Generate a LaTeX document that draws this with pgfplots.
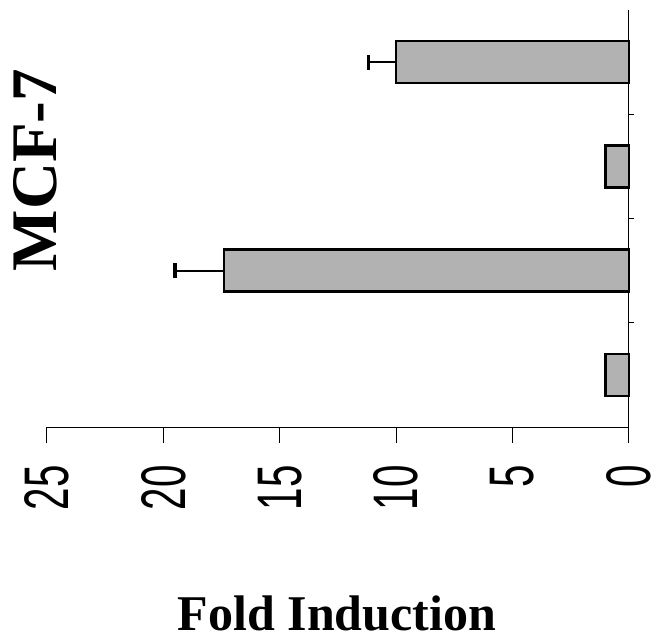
\documentclass[border=0pt]{standalone}
\usepackage{pgfplots}
\pgfplotsset{compat=1.18}
\usepackage{fontspec}
\setmainfont{Liberation Serif}
\newfontfamily\sansf{Liberation Sans}
\begin{document}
\begin{tikzpicture}
\useasboundingbox (0pt,0pt) rectangle (657pt,638pt);
\begin{axis}[
  at={(47pt,211pt)}, anchor=south west,
  scale only axis, width=582pt, height=417pt,
  xbar, bar width=42pt, bar shift=0pt,
  xmin=0, xmax=25, x dir=reverse,
  ymin=0.5, ymax=4.5, y dir=reverse,
  axis x line=bottom, axis y line=right,
  axis line style={-, line width=1pt},
  xtick={0,5,10,15,20,25},
  xticklabels={\scalebox{0.64}[1]{0},\scalebox{0.64}[1]{5},\scalebox{0.64}[1]{10},\scalebox{0.64}[1]{15},\scalebox{0.64}[1]{20},\scalebox{0.64}[1]{25}},
  xticklabel style={rotate=90, anchor=east, inner sep=0pt, font=\sansf\fontsize{63}{63}\selectfont},
  xticklabel shift=22pt,
  ytick={1.5,2.5,3.5},
  yticklabels={},
  tick align=outside,
  major tick length=16pt,
  xtick style={line width=1pt, black},
  ytick style={line width=1pt, black, /pgfplots/major tick length=5pt},
  clip=false,
]
\addplot[fill=black!30, draw=black, line width=2.5pt,
  error bars/.cd, x dir=plus, x explicit,
  error bar style={line width=2pt, black},
  error mark options={rotate=90, line width=3.5pt, mark size=7.5pt, black}]
  coordinates {
    (10.0,1) +- (1.2,0)
    (17.4,3) +- (2.1,0)
  };
\addplot[fill=black!30, draw=black, line width=2.5pt]
  coordinates {
    (1.0,2)
    (1.0,4)
  };
\end{axis}
\node[rotate=90, inner sep=0pt, font=\bfseries\fontsize{65}{65}\selectfont] at (35pt,468pt) {MCF-7};
\node[anchor=base, inner sep=0pt, font=\bfseries\fontsize{50}{50}\selectfont] at (337pt,7pt) {Fold Induction};
\end{tikzpicture}
\end{document}
